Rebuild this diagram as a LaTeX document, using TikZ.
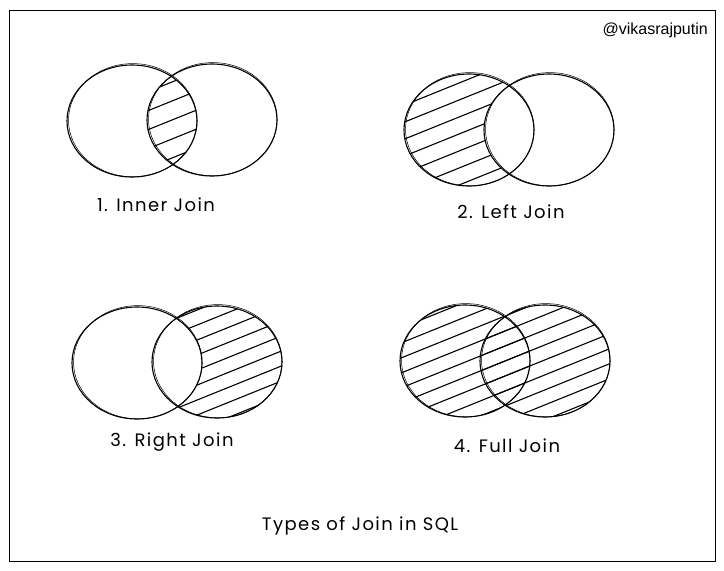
\documentclass[tikz,border=0pt]{standalone}
\usepackage{fontspec}
\setmainfont{Poppins}
\newfontfamily\handfont[LetterSpace=8]{Poppins}
\newfontfamily\tagfont{Liberation Sans}
\newcommand\myhatch[3]{\foreach \k in {-14,...,14}{\draw[hatchline] ({#1-160},{#2+\k*#3+64.6}) -- ({#1+160},{#2+\k*#3-64.6});}}
\newcommand\sketchell[2]{\draw[venn] (#1,#2) ellipse (65 and 56);\draw[venn2] ({#1+0.8},{#2-0.8}) ellipse (64.3 and 56.6);}
\begin{document}
\begin{tikzpicture}[x=1pt,y=-1pt,
  venn/.style={line width=1.1pt},
  venn2/.style={line width=0.5pt},
  hatchline/.style={line width=1.1pt},
  lab/.style={font=\handfont\fontsize{18}{20}\selectfont, inner sep=0pt},
]
\useasboundingbox (0,0) rectangle (724,571);
\fill[white] (0,0) rectangle (724,571);
\node[draw, line width=1.2pt, minimum width=706pt, minimum height=551pt, inner sep=0pt, anchor=north west] (frame) at (9,10) {};
\node[font=\tagfont\fontsize{16}{18}\selectfont, anchor=east, inner sep=0pt] (tag) at (708,30) {@vikasrajputin};

% 1. Inner join
\begin{scope}
  \clip (132,121) ellipse (65 and 56);
  \clip (212,120) ellipse (65 and 56);
  \myhatch{172}{120}{19}
\end{scope}
\sketchell{132}{121}
\sketchell{212}{120}

% 2. Left join
\begin{scope}[even odd rule]
  \clip (469,130) ellipse (65 and 56);
  \clip (380,40) rectangle (700,260) (549,130) ellipse (65 and 56);
  \myhatch{469}{130}{17}
\end{scope}
\sketchell{469}{130}
\sketchell{549}{130}

% 3. Right join
\begin{scope}[even odd rule]
  \clip (217,362) ellipse (65 and 56);
  \clip (40,280) rectangle (320,450) (137,363) ellipse (65 and 56);
  \myhatch{217}{362}{15}
\end{scope}
\sketchell{137}{363}
\sketchell{217}{362}

% 4. Full join
\begin{scope}
  \clip (465,361) ellipse (65 and 56);
  \myhatch{505}{361}{15}
\end{scope}
\begin{scope}
  \clip (545,361) ellipse (65 and 56);
  \myhatch{505}{361}{15}
\end{scope}
\sketchell{465}{361}
\sketchell{545}{361}

\node[lab] (l1) at (156,205) {1. Inner Join};
\node[lab] (l2) at (511,212) {2. Left Join};
\node[lab] (l3) at (172,442) {3. Right Join};
\node[lab] (l4) at (507,446) {4. Full Join};
\node[lab] (title) at (360,526) {Types of Join in SQL};
\end{tikzpicture}
\end{document}
